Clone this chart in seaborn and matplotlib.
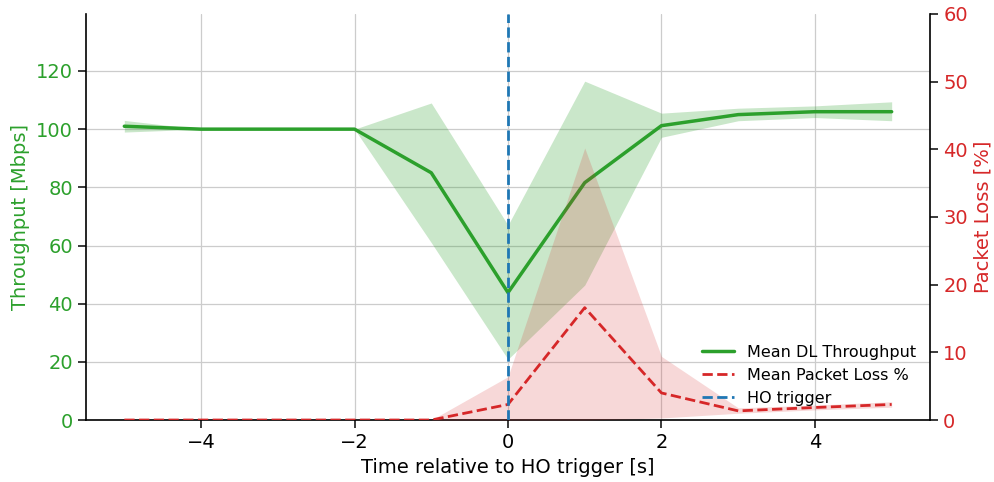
import matplotlib
matplotlib.use("Agg")
import matplotlib.pyplot as plt
import seaborn as sns
import pandas as pd

# Time offsets relative to the handover trigger [s]
time_s = [-5, -4, -3, -2, -1, 0, 1, 2, 3, 4, 5]

# Downlink throughput [Mbps]: mean and band limits
tput_mean = [101.0, 100.0, 100.0, 100.0, 85.0, 43.8, 81.6, 101.2, 105.0, 106.0, 106.0]
tput_low = [99.0, 100.0, 100.0, 100.0, 61.0, 20.9, 46.4, 97.2, 102.9, 104.0, 102.9]
tput_high = [103.0, 100.0, 100.0, 100.0, 109.0, 67.0, 116.5, 105.5, 107.2, 108.0, 109.4]

# Packet loss [%]: mean and band limits
loss_mean = [0.0, 0.0, 0.0, 0.0, 0.0, 2.3, 16.6, 4.0, 1.35, 1.85, 2.3]
loss_low = [0.0, 0.0, 0.0, 0.0, 0.0, 0.0, 0.0, 0.3, 1.0, 1.5, 1.9]
loss_high = [0.0, 0.0, 0.0, 0.0, 0.0, 6.4, 40.2, 9.4, 1.8, 2.2, 2.7]

df = pd.DataFrame({
    "t": time_s,
    "tput": tput_mean, "tput_lo": tput_low, "tput_hi": tput_high,
    "loss": loss_mean, "loss_lo": loss_low, "loss_hi": loss_high,
})

GREEN = "#2ca02c"
RED = "#d62728"
BLUE = "#1f77b4"

sns.set_theme(style="ticks")
plt.rcParams["font.family"] = ["DejaVu Sans"]
plt.rcParams["text.color"] = "black"
plt.rcParams["axes.labelcolor"] = "black"

fig, ax1 = plt.subplots(figsize=(9.95, 4.82), dpi=100)
fig.subplots_adjust(left=0.0864, right=0.9347, top=0.971, bottom=0.1286)

# Throughput on the left axis
ax1.fill_between(df["t"], df["tput_lo"], df["tput_hi"], color=GREEN, alpha=0.25, lw=0)
sns.lineplot(data=df, x="t", y="tput", ax=ax1, color=GREEN, lw=2.5,
             label="Mean DL Throughput", legend=False)
ax1.set_xlim(-5.5, 5.5)
ax1.set_ylim(0, 139.6)
ax1.set_yticks([0, 20, 40, 60, 80, 100, 120])
ax1.set_xticks([-4, -2, 0, 2, 4])
ax1.grid(True, color="#cccccc", lw=0.9)
ax1.set_axisbelow(True)
ax1.set_xlabel("Time relative to HO trigger [s]", fontsize=14, color="black")
ax1.set_ylabel("Throughput [Mbps]", fontsize=14, color=GREEN)
ax1.tick_params(axis="y", labelcolor=GREEN, color="#222222", labelsize=14)
ax1.tick_params(axis="x", labelsize=14, labelcolor="black", color="#222222")
ax1.spines["top"].set_visible(False)
ax1.spines["right"].set_visible(False)
for s in ("left", "bottom"):
    ax1.spines[s].set_color("black")
    ax1.spines[s].set_linewidth(1.2)

# Packet loss on the right axis
ax2 = ax1.twinx()
ax2.fill_between(df["t"], df["loss_lo"], df["loss_hi"], color=RED, alpha=0.18, lw=0)
sns.lineplot(data=df, x="t", y="loss", ax=ax2, color=RED, lw=2.0,
             linestyle="--", label="Mean Packet Loss %", legend=False)
ax2.axvline(0, color=BLUE, ls="--", lw=2.0, label="HO trigger")
ax2.set_ylim(0, 60)
ax2.set_yticks([0, 10, 20, 30, 40, 50, 60])
ax2.set_ylabel("Packet Loss [%]", fontsize=14, color=RED)
ax2.tick_params(axis="y", labelcolor=RED, color="#222222", labelsize=14)
ax2.grid(False)
ax2.spines["top"].set_visible(False)
ax2.spines["left"].set_visible(False)
ax2.spines["bottom"].set_visible(False)
ax2.spines["right"].set_color("black")
ax2.spines["right"].set_linewidth(1.2)

h1, l1 = ax1.get_legend_handles_labels()
h2, l2 = ax2.get_legend_handles_labels()
leg = ax2.legend(h1 + h2, l1 + l2, loc="lower right", frameon=False, fontsize=11.5)
for txt in leg.get_texts():
    txt.set_color("black")

fig.savefig("out.png", dpi=100)
